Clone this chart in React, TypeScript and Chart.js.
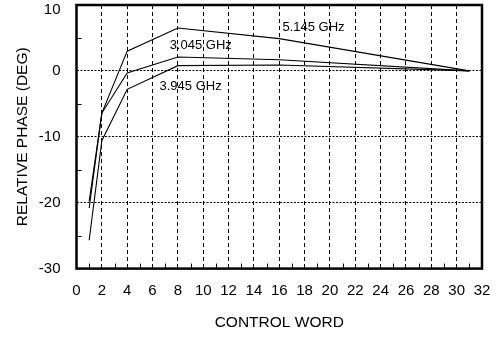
import React, { useEffect, useRef } from 'react';
import { Chart, registerables } from 'chart.js';

Chart.register(...registerables);

const controlWords = [1, 2, 4, 8, 16, 31];
const phase5145 = [-20.8, -6.4, 3.0, 6.5, 4.9, 0];
const phase3045 = [-19.8, -6.4, -0.3, 2.1, 1.7, 0];
const phase3945 = [-25.7, -10.6, -2.8, 0.8, 0.9, 0];

const xTickValues = [0, 2, 4, 6, 8, 10, 12, 14, 16, 18, 20, 22, 24, 26, 28, 30, 32];
const yTickValues = [-30, -20, -10, 0, 10];
const xMinorTicks = [1, 3, 5, 7, 9, 11, 13, 15, 17, 19, 21, 23, 25, 27, 29, 31];
const yMinorTicks = [-25, -15, -5, 5];

const curveLabels = ['5.145 GHz', '3.045 GHz', '3.945 GHz'];
const curveLabelX = [16.25, 7.35, 6.55];
const curveLabelY = [6.6, 3.8, -2.3];

const FONT = '"Liberation Sans", Arial, sans-serif';

const framePlugin = {
  id: 'frameAndLabels',
  afterDatasetsDraw(chart: any) {
    const { ctx, chartArea: a, scales } = chart;
    const x = scales.x;
    const y = scales.y;
    ctx.save();
    ctx.strokeStyle = '#000';
    ctx.lineWidth = 1;
    ctx.setLineDash([]);
    ctx.beginPath();
    for (const v of xMinorTicks) {
      const px = Math.round(x.getPixelForValue(v)) + 0.5;
      ctx.moveTo(px, a.bottom);
      ctx.lineTo(px, a.bottom - 5);
    }
    for (const v of yMinorTicks) {
      const py = Math.round(y.getPixelForValue(v)) + 0.5;
      ctx.moveTo(a.left, py);
      ctx.lineTo(a.left + 5, py);
    }
    ctx.stroke();
    ctx.lineWidth = 2.5;
    ctx.strokeRect(a.left, a.top, a.right - a.left, a.bottom - a.top);
    ctx.font = `13px ${FONT}`;
    ctx.fillStyle = '#000';
    ctx.textBaseline = 'middle';
    ctx.textAlign = 'left';
    curveLabels.forEach((t, i) => {
      ctx.fillText(t, x.getPixelForValue(curveLabelX[i]), y.getPixelForValue(curveLabelY[i]));
    });
    ctx.restore();
  },
};

const noPad = (s: any) => {
  s.paddingTop = 0;
  s.paddingBottom = 0;
  s.paddingLeft = 0;
  s.paddingRight = 0;
};

export default function App() {
  const ref = useRef<HTMLCanvasElement | null>(null);
  useEffect(() => {
    document.body.style.margin = '0';
    const canvas = ref.current;
    if (!canvas) return;
    const mk = (vals: number[], label: string) => ({
      label,
      data: controlWords.map((c, i) => ({ x: c, y: vals[i] })),
      borderColor: '#000',
      borderWidth: 1.1,
      pointRadius: 0,
      fill: false,
      tension: 0,
    });
    const chart = new Chart(canvas, {
      type: 'line',
      data: {
        datasets: [mk(phase5145, '5.145 GHz'), mk(phase3045, '3.045 GHz'), mk(phase3945, '3.945 GHz')],
      },
      options: {
        animation: false,
        responsive: false,
        devicePixelRatio: 1,
        layout: { padding: { top: 5, right: 15, left: 0, bottom: 0 }, autoPadding: false },
        plugins: { legend: { display: false }, tooltip: { enabled: false } },
        scales: {
          x: {
            type: 'linear',
            min: 0,
            max: 32,
            afterBuildTicks: (s: any) => {
              s.ticks = xTickValues.map((v) => ({ value: v }));
            },
            afterFit: (s: any) => {
              s.height = 68.4;
              noPad(s);
            },
            grid: {
              color: (c: any) => (c.tick && c.tick.value > 0 && c.tick.value < 32 ? '#000' : 'rgba(0,0,0,0)'),
              lineWidth: 1,
              drawTicks: false,
            },
            border: { display: false, dash: [4, 3] },
            ticks: {
              color: '#000',
              font: { family: FONT, size: 15 },
              padding: 13,
              maxRotation: 0,
              autoSkip: false,
              callback: (v: any) => String(v),
            },
            title: {
              display: true,
              text: 'CONTROL WORD',
              color: '#000',
              font: { family: FONT, size: 15.5 },
              padding: { top: 0, bottom: 5 },
            },
          },
          y: {
            type: 'linear',
            min: -30,
            max: 10,
            afterBuildTicks: (s: any) => {
              s.ticks = yTickValues.map((v) => ({ value: v }));
            },
            afterFit: (s: any) => {
              s.width = 76.5;
              noPad(s);
            },
            grid: {
              color: (c: any) => (c.tick && c.tick.value > -30 && c.tick.value < 10 ? '#000' : 'rgba(0,0,0,0)'),
              lineWidth: 1,
              drawTicks: false,
            },
            border: { display: false, dash: [2, 1.5] },
            ticks: {
              color: '#000',
              font: (c: any) =>
                c.tick && c.tick.value === 10
                  ? { family: FONT, size: 15, lineHeight: 0.67 }
                  : { family: FONT, size: 15 },
              padding: 16,
              autoSkip: false,
              callback: (v: any) => (v === 10 ? ['', '10'] : String(v)),
            },
            title: {
              display: true,
              text: 'RELATIVE PHASE (DEG)',
              color: '#000',
              font: { family: FONT, size: 15.5 },
              padding: { top: 13, bottom: 0 },
            },
          },
        },
      },
      plugins: [framePlugin],
    } as any);
    return () => chart.destroy();
  }, []);
  return (
    <div style={{ width: 497, height: 337 }}>
      <canvas ref={ref} width={497} height={337} style={{ display: 'block' }} />
    </div>
  );
}
